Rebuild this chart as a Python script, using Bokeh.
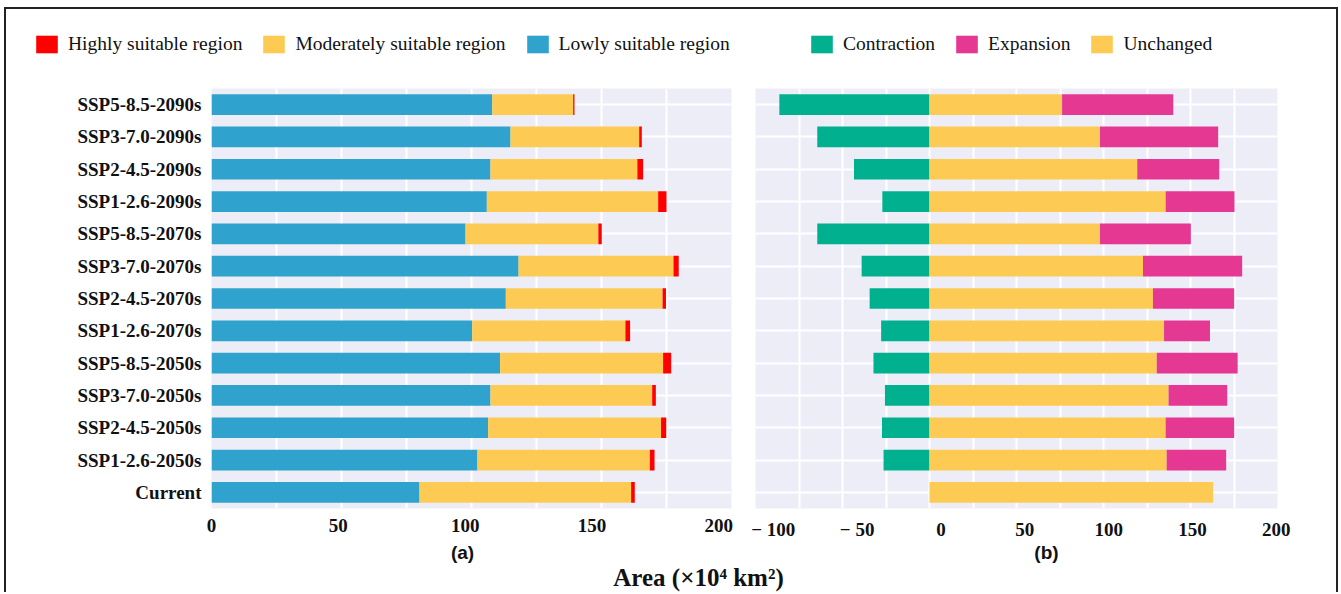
from bokeh.plotting import figure
from bokeh.models import (FactorRange, Range1d, FixedTicker, Legend, LegendItem,
                          Label, ColumnDataSource, LinearAxis)
from bokeh.layouts import row, column
from bokeh.embed import file_html
from bokeh.resources import INLINE

# ---------------- data (top row first) ----------------
categories = ["SSP5-8.5-2090s", "SSP3-7.0-2090s", "SSP2-4.5-2090s", "SSP1-2.6-2090s",
              "SSP5-8.5-2070s", "SSP3-7.0-2070s", "SSP2-4.5-2070s", "SSP1-2.6-2070s",
              "SSP5-8.5-2050s", "SSP3-7.0-2050s", "SSP2-4.5-2050s", "SSP1-2.6-2050s",
              "Current"]
lowly = [108.0, 115.0, 107.3, 105.9, 97.7, 118.1, 113.2, 100.3, 111.0, 107.3, 106.4, 102.3, 80.0]
moderately = [31.1, 49.5, 56.5, 65.9, 51.1, 59.6, 60.3, 58.9, 62.7, 62.2, 66.5, 66.3, 81.4]
highly = [0.5, 1.0, 2.2, 3.2, 1.3, 2.0, 1.3, 1.8, 3.1, 1.4, 2.0, 1.8, 1.4]

contraction = [86.3, 64.5, 43.4, 27.1, 64.5, 39.0, 34.4, 27.8, 32.2, 25.6, 27.3, 26.4, 0.0]
unchanged = [76.2, 98.0, 119.4, 135.7, 98.0, 122.7, 128.4, 134.8, 130.6, 137.4, 135.7, 136.3, 163.0]
expansion = [63.9, 67.9, 47.1, 39.6, 52.2, 57.0, 46.7, 26.4, 46.5, 33.7, 39.4, 34.2, 0.0]

ticks_a = [0, 50, 100, 150, 200]
ticks_b = [-100, -50, 0, 50, 100, 150, 200]
minor_a = [25, 75, 125, 175]
minor_b = [-75, -25, 25, 75, 125, 175]
labels_b = {-100: "\u2212 100", -50: "\u2212 50"}

legend_a = ["Highly suitable region", "Moderately suitable region", "Lowly suitable region"]
legend_b = ["Contraction", "Expansion", "Unchanged"]
panel_tags = ["(a)", "(b)"]
x_title = "Area (\u00d710\u2074 km\u00b2)"

# ---------------- styles ----------------
BLUE = "#2FA3CD"
YELLOW = "#FDCB53"
RED = "#FF0000"
GREEN = "#00B08F"
PINK = "#E43892"
BG = "#EDEDF8"
SERIF = "Liberation Serif"
SANS = "Liberation Sans"
TXT = "#111111"

# the reference prints its tick texts slightly displaced from the grid;
# a label-only axis on its own range reproduces that placement
label_range_a = (0, 205.0)
label_range_b = (-110.6, 200.7)

TOTAL_W = 1330
factors = categories[::-1]


def blank_fig(w, h):
    f = figure(width=w, height=h, x_range=Range1d(0, w), y_range=Range1d(h, 0),
               min_border=0, output_backend="svg", toolbar_location=None)
    f.axis.visible = False
    f.grid.visible = False
    f.outline_line_color = None
    f.background_fill_color = "white"
    f.border_fill_color = "white"
    return f


def style_axis(ax):
    ax.axis_line_color = None
    ax.major_tick_line_color = None
    ax.minor_tick_line_color = None
    ax.major_tick_out = 0
    ax.major_tick_in = 0
    ax.minor_tick_out = 0
    ax.minor_tick_in = 0
    ax.major_label_text_font = SERIF
    ax.major_label_text_font_style = "bold"
    ax.major_label_text_font_size = "19px"
    ax.major_label_text_color = TXT
    ax.major_label_standoff = 10


def make_fig(xr, lab_range, ticks, minor, overrides, fw, mbl, mbr, show_y):
    p = figure(y_range=FactorRange(*factors, range_padding=0),
               x_range=Range1d(*xr),
               frame_width=fw, frame_height=420,
               min_border_left=mbl, min_border_right=mbr,
               min_border_top=19, min_border_bottom=34,
               output_backend="svg", toolbar_location=None)
    p.background_fill_color = BG
    p.border_fill_color = "white"
    p.outline_line_color = None
    grid_ticker = FixedTicker(ticks=ticks, minor_ticks=minor)
    p.xaxis.ticker = grid_ticker
    p.xgrid.ticker = grid_ticker
    p.xaxis.visible = False
    p.xgrid.grid_line_color = "white"
    p.xgrid.grid_line_width = 2
    p.xgrid.minor_grid_line_color = "white"
    p.xgrid.minor_grid_line_width = 2
    p.ygrid.grid_line_color = "white"
    p.ygrid.grid_line_width = 2
    style_axis(p.yaxis[0])
    if not show_y:
        p.yaxis.visible = False
    p.extra_x_ranges = {"lab": Range1d(*lab_range)}
    lab_axis = LinearAxis(x_range_name="lab", ticker=FixedTicker(ticks=ticks),
                          major_label_overrides=overrides)
    style_axis(lab_axis)
    p.add_layout(lab_axis, "below")
    return p


# ---------------- panel (a) ----------------
p1 = make_fig((0, 200), label_range_a, ticks_a, minor_a, {}, 520, 205, 14, True)
src1 = ColumnDataSource(dict(cat=categories, lowly=lowly, moderately=moderately, highly=highly))
p1.hbar_stack(["lowly", "moderately", "highly"], y="cat", height=0.64,
              color=[BLUE, YELLOW, RED], line_color=None, source=src1)

# ---------------- panel (b) ----------------
p2 = make_fig((-100, 200), label_range_b, ticks_b, minor_b, labels_b, 522, 10, 59, False)
n = len(categories)
src2 = ColumnDataSource(dict(cat=categories,
                             c_left=[-c for c in contraction],
                             zero=[0.0] * n,
                             unch=unchanged,
                             e_right=[u + e for u, e in zip(unchanged, expansion)]))
p2.hbar(y="cat", left="c_left", right="zero", height=0.64, color=GREEN, line_color=None, source=src2)
p2.hbar(y="cat", left="zero", right="unch", height=0.64, color=YELLOW, line_color=None, source=src2)
p2.hbar(y="cat", left="unch", right="e_right", height=0.64, color=PINK, line_color=None, source=src2)

# ---------------- legends strip ----------------
top = blank_fig(TOTAL_W, 60)
# legend-only renderers placed far outside the visible strip
proxy = ColumnDataSource(dict(y=[5000.0], l=[0.0], r=[1.0]))


def legend_for(labels, colors, x0):
    items = []
    for lab, col in zip(labels, colors):
        r = top.hbar(y="y", left="l", right="r", height=1, color=col, line_color=None, source=proxy)
        items.append(LegendItem(label=lab, renderers=[r]))
    return Legend(items=items, location=(x0, 14), orientation="horizontal",
                  glyph_width=27, glyph_height=22, label_standoff=8, spacing=18,
                  padding=0, margin=0, border_line_color=None, background_fill_alpha=0,
                  label_text_font=SERIF, label_text_font_size="19.5px",
                  label_text_color=TXT, label_text_baseline="middle")


top.add_layout(legend_for(legend_a, [RED, YELLOW, BLUE], 27))
top.add_layout(legend_for(legend_b, [GREEN, PINK, YELLOW], 802))

# ---------------- bottom strip ----------------
bot = blank_fig(TOTAL_W, 50)
bot.add_layout(Label(x=456, y=10, text=panel_tags[0], text_font=SANS, text_font_style="bold",
                     text_font_size="19px", text_align="center", text_baseline="middle",
                     text_color=TXT))
bot.add_layout(Label(x=1040, y=10, text=panel_tags[1], text_font=SANS, text_font_style="bold",
                     text_font_size="19px", text_align="center", text_baseline="middle",
                     text_color=TXT))
bot.add_layout(Label(x=692, y=35, text=x_title, text_font=SERIF, text_font_style="bold",
                     text_font_size="25px", text_align="center", text_baseline="middle",
                     text_color=TXT))

layout = column(top, row(p1, p2), bot,
                styles={"margin-top": "7px", "margin-left": "4px",
                        "border-top": "2px solid #222", "border-left": "2px solid #222",
                        "border-right": "2px solid #222"})

open("out.html", "w").write(file_html(layout, INLINE))
